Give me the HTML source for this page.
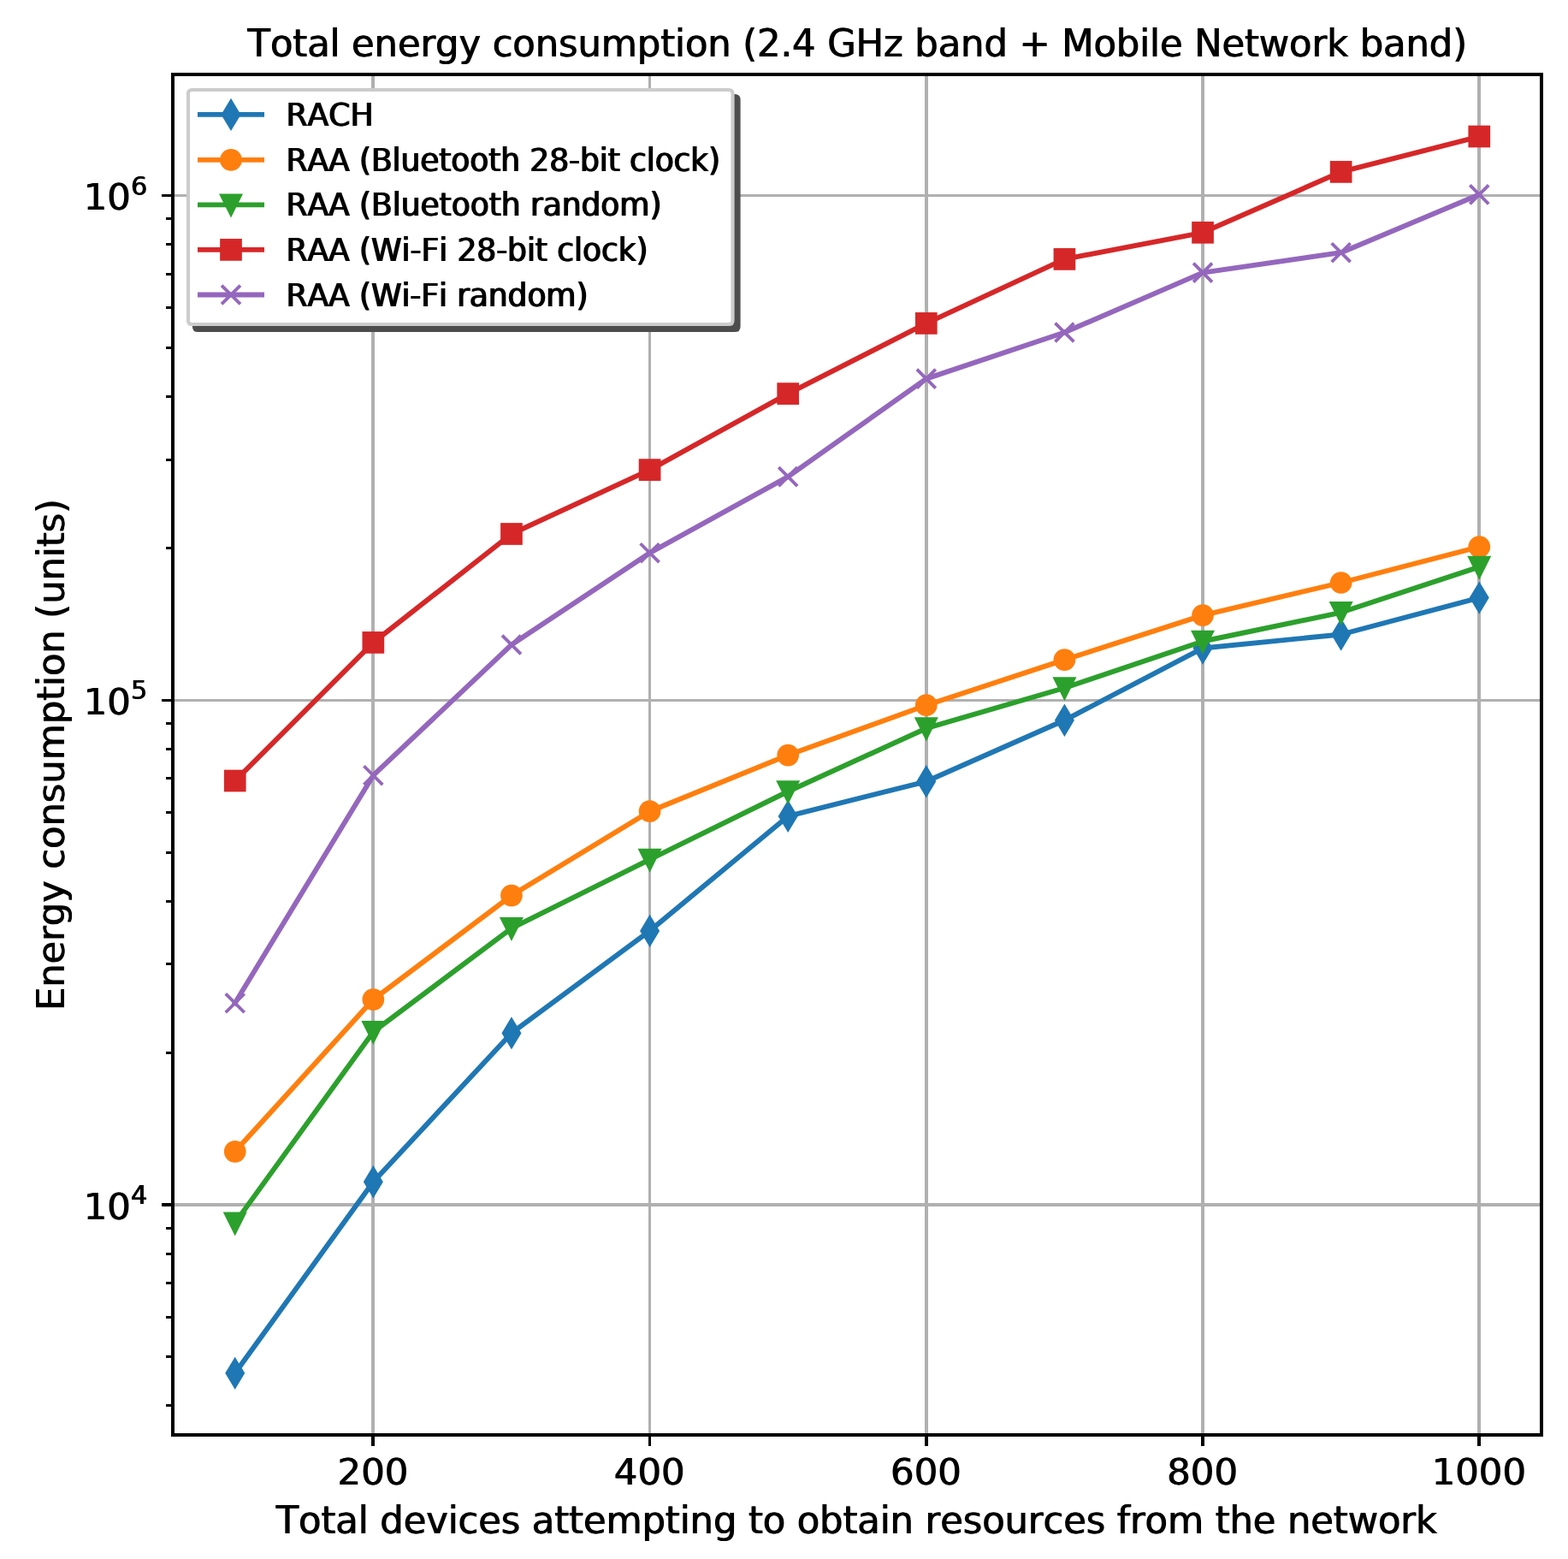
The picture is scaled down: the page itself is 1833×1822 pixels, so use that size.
<!DOCTYPE html>
<html><head><meta charset="utf-8"><title>Total energy consumption</title>
<style>html,body{margin:0;padding:0;background:#fff}svg{display:block}text{font-kerning:none}</style></head>
<body>
<svg width="1833" height="1822" viewBox="0 0 1833 1822" font-family='"DejaVu Sans","Liberation Sans",sans-serif'>
<rect width="1833" height="1822" fill="#fff"/>
<defs><clipPath id="ax"><rect x="202" y="87" width="1600" height="1590"/></clipPath></defs>
<g fill="#b0b0b0" shape-rendering="crispEdges">
<rect x="434" y="87" width="4" height="1590"/>
<rect x="758" y="87" width="3" height="1590"/>
<rect x="1081" y="87" width="4" height="1590"/>
<rect x="1404" y="87" width="4" height="1590"/>
<rect x="1727" y="87" width="4" height="1590"/>
<rect x="202" y="227" width="1600" height="3"/>
<rect x="202" y="817" width="1600" height="3"/>
<rect x="202" y="1406" width="1600" height="4"/>
</g>
<g clip-path="url(#ax)">
<polyline points="274.73,1604.85 436.34,1381.30 597.96,1207.40 759.58,1087.90 921.19,953.90 1082.81,913.30 1244.42,841.80 1406.04,757.50 1567.66,741.50 1729.27,698.60" fill="none" stroke="#1f77b4" stroke-width="5.90" stroke-linejoin="round" stroke-linecap="square"/>
<path d="M274.73 1589.36L284.02 1604.85L274.73 1620.34L265.44 1604.85Z" fill="#1f77b4" stroke="#1f77b4" stroke-width="3.80" stroke-linejoin="miter" stroke-miterlimit="10"/>
<path d="M436.34 1365.81L445.63 1381.30L436.34 1396.79L427.05 1381.30Z" fill="#1f77b4" stroke="#1f77b4" stroke-width="3.80" stroke-linejoin="miter" stroke-miterlimit="10"/>
<path d="M597.96 1191.91L607.25 1207.40L597.96 1222.89L588.67 1207.40Z" fill="#1f77b4" stroke="#1f77b4" stroke-width="3.80" stroke-linejoin="miter" stroke-miterlimit="10"/>
<path d="M759.58 1072.41L768.87 1087.90L759.58 1103.39L750.28 1087.90Z" fill="#1f77b4" stroke="#1f77b4" stroke-width="3.80" stroke-linejoin="miter" stroke-miterlimit="10"/>
<path d="M921.19 938.41L930.48 953.90L921.19 969.39L911.90 953.90Z" fill="#1f77b4" stroke="#1f77b4" stroke-width="3.80" stroke-linejoin="miter" stroke-miterlimit="10"/>
<path d="M1082.81 897.81L1092.10 913.30L1082.81 928.79L1073.52 913.30Z" fill="#1f77b4" stroke="#1f77b4" stroke-width="3.80" stroke-linejoin="miter" stroke-miterlimit="10"/>
<path d="M1244.42 826.31L1253.72 841.80L1244.42 857.29L1235.13 841.80Z" fill="#1f77b4" stroke="#1f77b4" stroke-width="3.80" stroke-linejoin="miter" stroke-miterlimit="10"/>
<path d="M1406.04 742.01L1415.33 757.50L1406.04 772.99L1396.75 757.50Z" fill="#1f77b4" stroke="#1f77b4" stroke-width="3.80" stroke-linejoin="miter" stroke-miterlimit="10"/>
<path d="M1567.66 726.01L1576.95 741.50L1567.66 756.99L1558.37 741.50Z" fill="#1f77b4" stroke="#1f77b4" stroke-width="3.80" stroke-linejoin="miter" stroke-miterlimit="10"/>
<path d="M1729.27 683.11L1738.56 698.60L1729.27 714.09L1719.98 698.60Z" fill="#1f77b4" stroke="#1f77b4" stroke-width="3.80" stroke-linejoin="miter" stroke-miterlimit="10"/>
<polyline points="274.73,1345.85 436.34,1168.10 597.96,1046.60 759.58,948.20 921.19,882.60 1082.81,824.20 1244.42,771.10 1406.04,719.10 1567.66,681.00 1729.27,639.10" fill="none" stroke="#ff7f0e" stroke-width="5.90" stroke-linejoin="round" stroke-linecap="square"/>
<circle cx="274.73" cy="1345.85" r="10.95" fill="#ff7f0e" stroke="#ff7f0e" stroke-width="3.80"/>
<circle cx="436.34" cy="1168.10" r="10.95" fill="#ff7f0e" stroke="#ff7f0e" stroke-width="3.80"/>
<circle cx="597.96" cy="1046.60" r="10.95" fill="#ff7f0e" stroke="#ff7f0e" stroke-width="3.80"/>
<circle cx="759.58" cy="948.20" r="10.95" fill="#ff7f0e" stroke="#ff7f0e" stroke-width="3.80"/>
<circle cx="921.19" cy="882.60" r="10.95" fill="#ff7f0e" stroke="#ff7f0e" stroke-width="3.80"/>
<circle cx="1082.81" cy="824.20" r="10.95" fill="#ff7f0e" stroke="#ff7f0e" stroke-width="3.80"/>
<circle cx="1244.42" cy="771.10" r="10.95" fill="#ff7f0e" stroke="#ff7f0e" stroke-width="3.80"/>
<circle cx="1406.04" cy="719.10" r="10.95" fill="#ff7f0e" stroke="#ff7f0e" stroke-width="3.80"/>
<circle cx="1567.66" cy="681.00" r="10.95" fill="#ff7f0e" stroke="#ff7f0e" stroke-width="3.80"/>
<circle cx="1729.27" cy="639.10" r="10.95" fill="#ff7f0e" stroke="#ff7f0e" stroke-width="3.80"/>
<polyline points="274.73,1429.25 436.34,1205.90 597.96,1084.90 759.58,1004.50 921.19,925.00 1082.81,851.20 1244.42,804.00 1406.04,749.50 1567.66,715.80 1729.27,662.50" fill="none" stroke="#2ca02c" stroke-width="5.90" stroke-linejoin="round" stroke-linecap="square"/>
<path d="M263.78 1418.30L285.68 1418.30L274.73 1440.20Z" fill="#2ca02c" stroke="#2ca02c" stroke-width="3.80" stroke-linejoin="miter" stroke-miterlimit="10"/>
<path d="M425.39 1194.95L447.29 1194.95L436.34 1216.85Z" fill="#2ca02c" stroke="#2ca02c" stroke-width="3.80" stroke-linejoin="miter" stroke-miterlimit="10"/>
<path d="M587.01 1073.95L608.91 1073.95L597.96 1095.85Z" fill="#2ca02c" stroke="#2ca02c" stroke-width="3.80" stroke-linejoin="miter" stroke-miterlimit="10"/>
<path d="M748.63 993.55L770.53 993.55L759.58 1015.45Z" fill="#2ca02c" stroke="#2ca02c" stroke-width="3.80" stroke-linejoin="miter" stroke-miterlimit="10"/>
<path d="M910.24 914.05L932.14 914.05L921.19 935.95Z" fill="#2ca02c" stroke="#2ca02c" stroke-width="3.80" stroke-linejoin="miter" stroke-miterlimit="10"/>
<path d="M1071.86 840.25L1093.76 840.25L1082.81 862.15Z" fill="#2ca02c" stroke="#2ca02c" stroke-width="3.80" stroke-linejoin="miter" stroke-miterlimit="10"/>
<path d="M1233.47 793.05L1255.37 793.05L1244.42 814.95Z" fill="#2ca02c" stroke="#2ca02c" stroke-width="3.80" stroke-linejoin="miter" stroke-miterlimit="10"/>
<path d="M1395.09 738.55L1416.99 738.55L1406.04 760.45Z" fill="#2ca02c" stroke="#2ca02c" stroke-width="3.80" stroke-linejoin="miter" stroke-miterlimit="10"/>
<path d="M1556.71 704.85L1578.61 704.85L1567.66 726.75Z" fill="#2ca02c" stroke="#2ca02c" stroke-width="3.80" stroke-linejoin="miter" stroke-miterlimit="10"/>
<path d="M1718.32 651.55L1740.22 651.55L1729.27 673.45Z" fill="#2ca02c" stroke="#2ca02c" stroke-width="3.80" stroke-linejoin="miter" stroke-miterlimit="10"/>
<polyline points="274.73,912.50 436.34,750.90 597.96,624.00 759.58,549.10 921.19,460.10 1082.81,377.90 1244.42,302.90 1406.04,271.80 1567.66,200.90 1729.27,159.50" fill="none" stroke="#d62728" stroke-width="5.90" stroke-linejoin="round" stroke-linecap="square"/>
<rect x="263.78" y="901.55" width="21.90" height="21.90" fill="#d62728" stroke="#d62728" stroke-width="3.80"/>
<rect x="425.39" y="739.95" width="21.90" height="21.90" fill="#d62728" stroke="#d62728" stroke-width="3.80"/>
<rect x="587.01" y="613.05" width="21.90" height="21.90" fill="#d62728" stroke="#d62728" stroke-width="3.80"/>
<rect x="748.63" y="538.15" width="21.90" height="21.90" fill="#d62728" stroke="#d62728" stroke-width="3.80"/>
<rect x="910.24" y="449.15" width="21.90" height="21.90" fill="#d62728" stroke="#d62728" stroke-width="3.80"/>
<rect x="1071.86" y="366.95" width="21.90" height="21.90" fill="#d62728" stroke="#d62728" stroke-width="3.80"/>
<rect x="1233.47" y="291.95" width="21.90" height="21.90" fill="#d62728" stroke="#d62728" stroke-width="3.80"/>
<rect x="1395.09" y="260.85" width="21.90" height="21.90" fill="#d62728" stroke="#d62728" stroke-width="3.80"/>
<rect x="1556.71" y="189.95" width="21.90" height="21.90" fill="#d62728" stroke="#d62728" stroke-width="3.80"/>
<rect x="1718.32" y="148.55" width="21.90" height="21.90" fill="#d62728" stroke="#d62728" stroke-width="3.80"/>
<polyline points="274.73,1172.30 436.34,906.20 597.96,753.50 759.58,646.20 921.19,557.10 1082.81,442.60 1244.42,388.50 1406.04,318.60 1567.66,295.20 1729.27,227.40" fill="none" stroke="#9467bd" stroke-width="5.90" stroke-linejoin="round" stroke-linecap="square"/>
<path d="M263.78 1161.35L285.68 1183.25M263.78 1183.25L285.68 1161.35" fill="none" stroke="#9467bd" stroke-width="3.80" stroke-linecap="butt"/>
<path d="M425.39 895.25L447.29 917.15M425.39 917.15L447.29 895.25" fill="none" stroke="#9467bd" stroke-width="3.80" stroke-linecap="butt"/>
<path d="M587.01 742.55L608.91 764.45M587.01 764.45L608.91 742.55" fill="none" stroke="#9467bd" stroke-width="3.80" stroke-linecap="butt"/>
<path d="M748.63 635.25L770.53 657.15M748.63 657.15L770.53 635.25" fill="none" stroke="#9467bd" stroke-width="3.80" stroke-linecap="butt"/>
<path d="M910.24 546.15L932.14 568.05M910.24 568.05L932.14 546.15" fill="none" stroke="#9467bd" stroke-width="3.80" stroke-linecap="butt"/>
<path d="M1071.86 431.65L1093.76 453.55M1071.86 453.55L1093.76 431.65" fill="none" stroke="#9467bd" stroke-width="3.80" stroke-linecap="butt"/>
<path d="M1233.47 377.55L1255.37 399.45M1233.47 399.45L1255.37 377.55" fill="none" stroke="#9467bd" stroke-width="3.80" stroke-linecap="butt"/>
<path d="M1395.09 307.65L1416.99 329.55M1395.09 329.55L1416.99 307.65" fill="none" stroke="#9467bd" stroke-width="3.80" stroke-linecap="butt"/>
<path d="M1556.71 284.25L1578.61 306.15M1556.71 306.15L1578.61 284.25" fill="none" stroke="#9467bd" stroke-width="3.80" stroke-linecap="butt"/>
<path d="M1718.32 216.45L1740.22 238.35M1718.32 238.35L1740.22 216.45" fill="none" stroke="#9467bd" stroke-width="3.80" stroke-linecap="butt"/>
</g>
<rect x="202" y="87" width="1600" height="1590" fill="none" stroke="#000" stroke-width="4" shape-rendering="crispEdges"/>
<g fill="#000" shape-rendering="crispEdges">
<rect x="434" y="1677" width="4" height="13"/>
<rect x="758" y="1677" width="3" height="13"/>
<rect x="1081" y="1677" width="4" height="13"/>
<rect x="1404" y="1677" width="4" height="13"/>
<rect x="1727" y="1677" width="4" height="13"/>
<rect x="189" y="227" width="13" height="3"/>
<rect x="189" y="817" width="13" height="3"/>
<rect x="189" y="1406" width="13" height="4"/>
<rect x="194" y="1641" width="8" height="3"/>
<rect x="194" y="1584" width="8" height="3"/>
<rect x="194" y="1538" width="8" height="3"/>
<rect x="194" y="1498" width="8" height="3"/>
<rect x="194" y="1464" width="8" height="3"/>
<rect x="194" y="1434" width="8" height="3"/>
<rect x="194" y="1229" width="8" height="3"/>
<rect x="194" y="1125" width="8" height="3"/>
<rect x="194" y="1052" width="8" height="3"/>
<rect x="194" y="995" width="8" height="3"/>
<rect x="194" y="948" width="8" height="3"/>
<rect x="194" y="908" width="8" height="3"/>
<rect x="194" y="874" width="8" height="3"/>
<rect x="194" y="844" width="8" height="3"/>
<rect x="194" y="639" width="8" height="3"/>
<rect x="194" y="536" width="8" height="3"/>
<rect x="194" y="462" width="8" height="3"/>
<rect x="194" y="405" width="8" height="3"/>
<rect x="194" y="358" width="8" height="3"/>
<rect x="194" y="319" width="8" height="3"/>
<rect x="194" y="284" width="8" height="3"/>
<rect x="194" y="254" width="8" height="3"/>
</g>
<path d="M231.6 112L858.9 112Q863.5 112 863.5 116.6L863.5 381.4Q863.5 386 858.9 386L231.6 386Q227 386 227 381.4L227 116.6Q227 112 231.6 112Z" fill="#4d4d4d" stroke="#4d4d4d" stroke-width="4.2"/>
<path d="M224.6 105L851.9 105Q856.5 105 856.5 109.6L856.5 374.4Q856.5 379 851.9 379L224.6 379Q220 379 220 374.4L220 109.6Q220 105 224.6 105Z" fill="#fff" stroke="#ccc" stroke-width="4.2"/>
<line x1="231" y1="133.90" x2="309" y2="133.90" stroke="#1f77b4" stroke-width="5.90"/>
<path d="M270.00 118.41L279.29 133.90L270.00 149.39L260.71 133.90Z" fill="#1f77b4" stroke="#1f77b4" stroke-width="3.80" stroke-linejoin="miter" stroke-miterlimit="10"/>
<line x1="231" y1="186.90" x2="309" y2="186.90" stroke="#ff7f0e" stroke-width="5.90"/>
<circle cx="270.00" cy="186.90" r="10.95" fill="#ff7f0e" stroke="#ff7f0e" stroke-width="3.80"/>
<line x1="231" y1="239.40" x2="309" y2="239.40" stroke="#2ca02c" stroke-width="5.90"/>
<path d="M259.05 228.45L280.95 228.45L270.00 250.35Z" fill="#2ca02c" stroke="#2ca02c" stroke-width="3.80" stroke-linejoin="miter" stroke-miterlimit="10"/>
<line x1="231" y1="291.90" x2="309" y2="291.90" stroke="#d62728" stroke-width="5.90"/>
<rect x="259.05" y="280.95" width="21.90" height="21.90" fill="#d62728" stroke="#d62728" stroke-width="3.80"/>
<line x1="231" y1="344.50" x2="309" y2="344.50" stroke="#9467bd" stroke-width="5.90"/>
<path d="M259.05 333.55L280.95 355.45M259.05 355.45L280.95 333.55" fill="none" stroke="#9467bd" stroke-width="3.80" stroke-linecap="butt"/>
<g id="ht" font-size="43.33" fill="#000" transform="translate(-0.50 0)">
<text transform="translate(435.94 1734.50) scale(1 1)" text-anchor="middle">200</text>
<text transform="translate(759.18 1734.50) scale(1 1)" text-anchor="middle">400</text>
<text transform="translate(1082.41 1734.50) scale(1 1)" text-anchor="middle">600</text>
<text transform="translate(1405.64 1734.50) scale(1 1)" text-anchor="middle">800</text>
<text transform="translate(1728.87 1734.50) scale(1 1)" text-anchor="middle">1000</text>
<text transform="translate(97.80 245.00) scale(1 1)">10<tspan dy="-17.3" font-size="30.33">6</tspan></text>
<text transform="translate(97.80 834.75) scale(1 1)">10<tspan dy="-17.3" font-size="30.33">5</tspan></text>
<text transform="translate(97.80 1424.50) scale(1 1)">10<tspan dy="-17.3" font-size="30.33">4</tspan></text>
<text transform="translate(289.60 65.90) scale(1 1.02)" id="title" textLength="1425.5" lengthAdjust="spacing">Total energy consumption (2.4 GHz band + Mobile Network band)</text>
<text transform="translate(322.80 1791.50) scale(1 1.02)" id="xlabel" textLength="1357.3" lengthAdjust="spacing">Total devices attempting to obtain resources from the network</text>
</g>
<g id="lt" font-size="36.11" fill="#000" transform="translate(-0.75 0)">
<text transform="translate(334.50 146.90) scale(1 1.02)" class="leg">RACH</text>
<text transform="translate(334.50 199.55) scale(1 1.02)" class="leg" textLength="507.7" lengthAdjust="spacing">RAA (Bluetooth 28-bit clock)</text>
<text transform="translate(334.50 252.20) scale(1 1.02)" class="leg" textLength="439.0" lengthAdjust="spacing">RAA (Bluetooth random)</text>
<text transform="translate(334.50 304.85) scale(1 1.02)" class="leg" textLength="423.1" lengthAdjust="spacing">RAA (Wi-Fi 28-bit clock)</text>
<text transform="translate(334.50 357.50) scale(1 1.02)" class="leg" textLength="353.0" lengthAdjust="spacing">RAA (Wi-Fi random)</text>
</g>
<text id="ylabel" font-size="43.33" fill="#000" transform="translate(74.9 1181.60) rotate(-90) scale(1 1.02)" textLength="598.1" lengthAdjust="spacing">Energy consumption (units)</text>
<use href="#ht" x="1.0"/>
<use href="#lt" x="1.5"/>
<use href="#ylabel" y="-1.0"/>
</svg>
</body></html>
